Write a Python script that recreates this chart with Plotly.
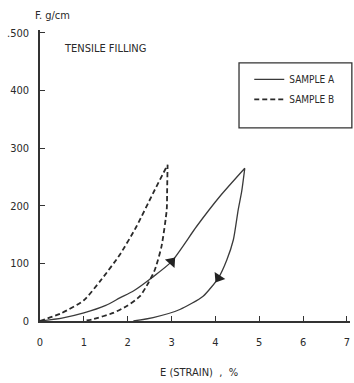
import plotly.graph_objects as go

# ---- data ----
a_load_x = [0, 0.5, 1.0, 1.5, 1.82, 2.13, 2.55, 3.0, 3.57, 4.1, 4.67]
a_load_y = [0, 5, 14, 27, 40, 52, 75, 103, 164, 216, 265]
a_unload_x = [4.67, 4.6, 4.52, 4.41, 4.26, 4.07, 3.72, 3.19, 2.58, 2.13]
a_unload_y = [265, 225, 193, 141, 106, 75, 43, 20, 6, 0]

b_load_x = [0, 0.5, 1.0, 1.4, 1.82, 2.2, 2.58, 2.91]
b_load_y = [0, 14, 36, 72, 115, 164, 222, 271]
b_unload_x = [2.91, 2.9, 2.89, 2.77, 2.62, 2.47, 2.28, 1.98, 1.67, 1.2, 1.0]
b_unload_y = [271, 230, 193, 129, 89, 66, 43, 26, 14, 3, 0]

# arrow markers on sample A (position and direction of travel)
arrow_x = [3.0, 4.07]
arrow_y = [103, 75]
arrow_angle = [41, 213]

x_ticks = [0, 1, 2, 3, 4, 5, 6, 7]
y_ticks = [0, 100, 200, 300, 400, 500]
y_ticktext = ["0", "100", "200", "300", "400", ".500"]

FONT = "Liberation Sans Narrow, DejaVu Sans Condensed, Arial Narrow, sans-serif"
INK = "#2a2a2a"

fig = go.Figure()

fig.add_trace(go.Scatter(
    x=a_load_x + a_unload_x, y=a_load_y + a_unload_y,
    mode="lines", name="SAMPLE A",
    line=dict(color="#3a3a3a", width=1.3, shape="spline", smoothing=0.6),
    legendgroup="a",
))
fig.add_trace(go.Scatter(
    x=b_load_x + b_unload_x, y=b_load_y + b_unload_y,
    mode="lines", name="SAMPLE B",
    line=dict(color="#2a2a2a", width=1.8, dash="5px,3px", shape="spline", smoothing=0.6),
    legendgroup="b",
))
fig.add_trace(go.Scatter(
    x=arrow_x, y=arrow_y, mode="markers", showlegend=False,
    marker=dict(symbol="triangle-up", size=11, angle=arrow_angle,
                color="#222222", line=dict(width=0)),
    hoverinfo="skip",
))

# legend frame
fig.add_shape(type="rect", xref="paper", yref="paper",
              x0=0.642, x1=1.006, y0=0.664, y1=0.887,
              line=dict(color="#333333", width=1.3), fillcolor="rgba(0,0,0,0)")

fig.add_annotation(text="F. g/cm", xref="paper", yref="paper", x=0.04, y=1.051,
                   xanchor="center", yanchor="middle", showarrow=False,
                   font=dict(family=FONT, size=11, color=INK))
fig.add_annotation(text="TENSILE FILLING", xref="paper", yref="paper", x=0.072, y=0.938,
                   xanchor="left", yanchor="middle", showarrow=False,
                   font=dict(family=FONT, size=11, color=INK))
fig.add_annotation(text="E (STRAIN)  ,  %", xref="paper", yref="paper", x=0.513, y=-0.177,
                   xanchor="center", yanchor="middle", showarrow=False,
                   font=dict(family=FONT, size=11, color=INK))

fig.update_layout(
    width=354, height=383,
    margin=dict(l=40, r=4, t=30, b=61.5, pad=0, autoexpand=False),
    paper_bgcolor="white", plot_bgcolor="white",
    font=dict(family=FONT, size=11, color=INK),
    showlegend=True,
    legend=dict(x=0.675, y=0.88, xanchor="left", yanchor="top",
                bgcolor="rgba(0,0,0,0)", borderwidth=0,
                font=dict(family=FONT, size=10, color=INK),
                itemwidth=30, tracegroupgap=1, traceorder="grouped"),
    xaxis=dict(range=[0, 7.07], tickvals=x_ticks, ticks="inside", ticklen=5,
               tickwidth=1.3, tickcolor="#333", showline=True, linecolor="#333",
               linewidth=1.5, showgrid=False, zeroline=False, automargin=False,
               ticklabelstandoff=10, ticklabeloverflow="allow", tickfont=dict(size=11)),
    yaxis=dict(range=[0, 505], tickvals=y_ticks, ticktext=y_ticktext, ticks="inside",
               ticklen=5, tickwidth=1.3, tickcolor="#333", showline=True,
               linecolor="#333", linewidth=1.5, showgrid=False, zeroline=False,
               automargin=False, ticklabelstandoff=7, tickfont=dict(size=11)),
)

# remove the browser's default 8px page margin so the figure fills the window
fig.write_html(
    "out.html",
    config={"displayModeBar": False},
    post_script="document.body.style.margin='0';document.body.style.overflow='hidden';",
)
